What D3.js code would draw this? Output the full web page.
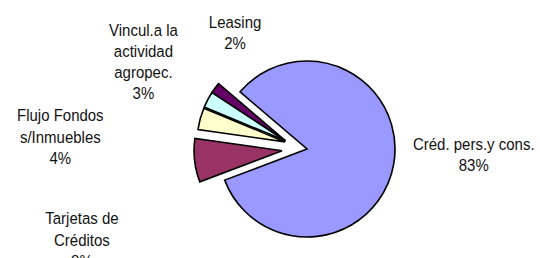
<!DOCTYPE html>
<html>
<head>
<meta charset="utf-8">
<script src="https://cdn.jsdelivr.net/npm/d3@7"></script>
<style>
  body { margin: 0; background: #fff; }
  .lbl { font-family: "Liberation Sans", Arial, sans-serif; font-size: 15px; fill: #111; }
</style>
</head>
<body>
<div id="chart"></div>
<script>
// data
var categories = ["Créd. pers.y cons.", "Tarjetas de\nCréditos", "Flujo Fondos\ns/Inmuebles",
                  "Vincul.a la\nactividad\nagropec.", "Leasing"];
var shares = [83, 8, 4, 3, 2];

// styles
var colors = ["#9999ff", "#993366", "#ffffcc", "#ccffff", "#660066"];
var explodeDist = [0, 25, 23, 23, 23];
var explodeDir = [0, 266, 288, 291, 291]; // degrees, clockwise from 12 o'clock
var labelNudge = [[19, -25], [-76, 59], [-102, 12], [-31, -43], [48, -31]];

var width = 540, height = 258;
var cx = 307, cy = 149, radius = 88;
var lineH = 19.2;   // before the vertical stretch below
var stretch = 1.1;  // reference glyphs are a bit taller than Arial
var start = -49.5 * Math.PI / 180;

var svg = d3.select("#chart").append("svg")
    .attr("width", width)
    .attr("height", height);

var pie = d3.pie()
    .sort(null)
    .value(function (d) { return d; })
    .startAngle(start)
    .endAngle(start + 2 * Math.PI);

var arc = d3.arc().innerRadius(0).outerRadius(radius);
var labelArc = d3.arc().innerRadius(150).outerRadius(150);
var total = d3.sum(shares);
var pct = d3.format(".0%");

var arcs = pie(shares);
var g = svg.append("g").attr("transform", "translate(" + cx + "," + cy + ")");

// slices
g.selectAll(".slice")
    .data(arcs)
  .enter().append("path")
    .attr("class", "slice")
    .attr("d", arc)
    .attr("transform", function (d, i) {
      var a = explodeDir[i] * Math.PI / 180;
      return "translate(" + (explodeDist[i] * Math.sin(a)) + "," + (-explodeDist[i] * Math.cos(a)) + ")";
    })
    .attr("fill", function (d, i) { return colors[i]; })
    .attr("stroke", "#000")
    .attr("stroke-width", 1.6);

// labels
var lbl = g.selectAll(".lbl")
    .data(arcs)
  .enter().append("text")
    .attr("class", "lbl")
    .attr("text-anchor", "middle")
    .attr("transform", function (d, i) {
      var c = labelArc.centroid(d);
      return "translate(" + (c[0] + labelNudge[i][0]) + "," + (c[1] + labelNudge[i][1]) + ") scale(1," + stretch + ")";
    });

lbl.each(function (d, i) {
  var lines = categories[i].split("\n").concat([pct(d.value / total)]);
  d3.select(this).selectAll("tspan")
      .data(lines)
    .enter().append("tspan")
      .attr("x", 0)
      .attr("y", function (t, j) { return j * lineH; })
      .text(function (t) { return t; });
});
</script>
</body>
</html>
